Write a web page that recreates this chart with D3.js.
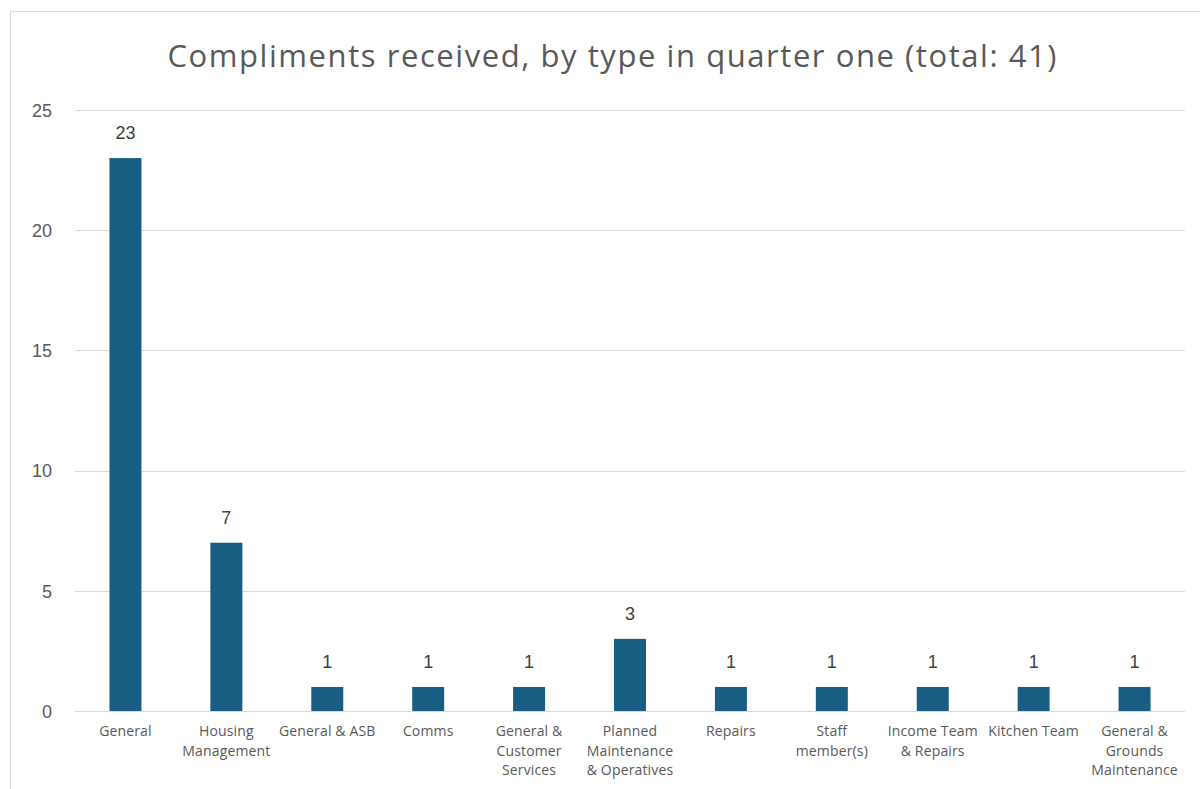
<!DOCTYPE html>
<html><head><meta charset="utf-8">
<script src="https://cdn.jsdelivr.net/npm/d3@7"></script>
<style>body{margin:0;background:#fff;}svg{display:block;}</style>
</head><body>
<script>
const title = "Compliments received, by type in quarter one (total: 41)";
const categories = ["General","Housing\nManagement","General & ASB","Comms","General &\nCustomer\nServices","Planned\nMaintenance\n& Operatives","Repairs","Staff\nmember(s)","Income Team\n& Repairs","Kitchen Team","General &\nGrounds\nMaintenance"];
const values = [23,7,1,1,1,3,1,1,1,1,1];
const yTicks = [0,5,10,15,20,25];

const W=1200,H=789;
const svg=d3.select("body").append("svg").attr("width",W).attr("height",H);
svg.append("rect").attr("x",10.5).attr("y",11.5).attr("width",1200).attr("height",800).attr("fill","#fff").attr("stroke","#d9d9d9").attr("stroke-width",1);

const x=d3.scaleBand().domain(categories).range([75,1185]).paddingInner(0.683).paddingOuter(0.3415);
const y=d3.scaleLinear().domain([0,25]).range([711,110]);

const grid=svg.append("g");
grid.selectAll("line").data(yTicks).join("line")
 .attr("x1",75).attr("x2",1185).attr("y1",d=>Math.round(y(d))+0.5).attr("y2",d=>Math.round(y(d))+0.5)
 .attr("stroke","#d9d9d9").attr("stroke-width",1);

const yAxis=d3.axisLeft(y).tickValues(yTicks).tickSize(0).tickPadding(0);
const ya=svg.append("g").attr("transform","translate(52,0)").call(yAxis);
ya.select(".domain").remove();
ya.selectAll("text").attr("fill","#595959").style("font-family","'Liberation Sans',Arial,sans-serif").style("font-size","18px").attr("dy","0.35em");

svg.append("g").selectAll("rect").data(values).join("rect")
 .attr("x",(d,i)=>x(categories[i])).attr("width",x.bandwidth())
 .attr("y",d=>y(d)).attr("height",d=>y(0)-y(d)).attr("fill","#175E82");

svg.append("g").selectAll("text").data(values).join("text")
 .attr("x",(d,i)=>x(categories[i])+x.bandwidth()/2).attr("y",d=>y(d)-19)
 .attr("text-anchor","middle").attr("fill","#404040")
 .style("font-family","'Liberation Sans',Arial,sans-serif").style("font-size","18px").text(d=>d);

svg.append("line").attr("x1",75).attr("x2",1185).attr("y1",711.5).attr("y2",711.5).attr("stroke","#d9d9d9");

const xa=svg.append("g");
categories.forEach(c=>{
  const t=xa.append("text").attr("x",x(c)+x.bandwidth()/2).attr("y",736).attr("text-anchor","middle")
   .attr("fill","#595959").style("font-family","'Open Sans',sans-serif").style("font-size","14px").style("letter-spacing","0.15px");
  c.split("\n").forEach((l,j)=>t.append("tspan").attr("x",x(c)+x.bandwidth()/2).attr("dy",j?19.5:0).text(l));
});

svg.append("text").attr("x",612).attr("y",67).attr("text-anchor","middle").attr("fill","#595959")
 .attr("textLength",889).attr("lengthAdjust","spacing")
 .style("font-family","'Open Sans',sans-serif").style("font-size","31px").text(title);
</script>
</body></html>
